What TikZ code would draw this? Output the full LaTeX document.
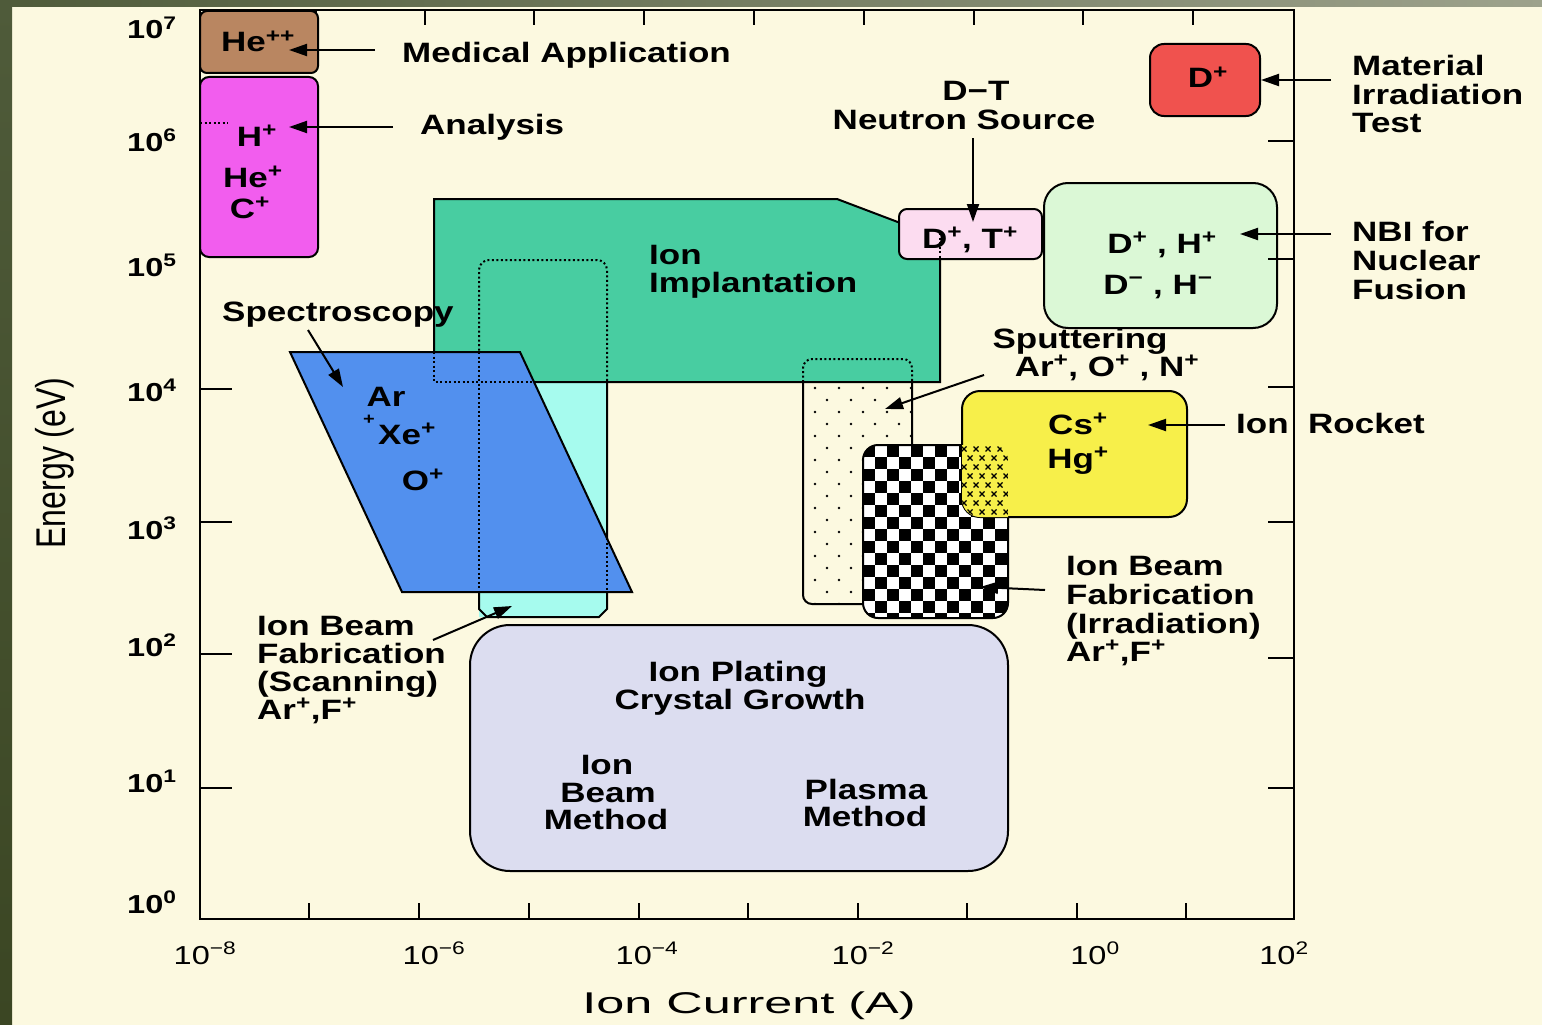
\documentclass[tikz,border=0pt]{standalone}
\usepackage{fontspec}
\setmainfont{Liberation Sans}[FakeStretch=1.25]
\newfontfamily\plainfont{Liberation Sans}
\usetikzlibrary{arrows.meta}
\definecolor{cream}{HTML}{FCF9E0}
\definecolor{stripA}{HTML}{4F5B3A}
\definecolor{stripB}{HTML}{3B4623}
\definecolor{stripR}{HTML}{9DA28C}
\definecolor{brownbox}{HTML}{B98661}
\definecolor{magbox}{HTML}{F25DEE}
\definecolor{tealbox}{HTML}{48CDA1}
\definecolor{cyanbox}{HTML}{A6FBEE}
\definecolor{bluebox}{HTML}{5290EE}
\definecolor{redbox}{HTML}{F0524E}
\definecolor{pinkbox}{HTML}{FCDCF0}
\definecolor{greenbox}{HTML}{DBF8D6}
\definecolor{yelbox}{HTML}{F7EF4A}
\definecolor{lavbox}{HTML}{DCDDF0}
\newcommand\sps[1]{\textsuperscript{#1}}
\tikzset{
 lbl/.style={font=\bfseries\fontsize{28}{30}\selectfont, inner sep=0pt, anchor=base},
 lblw/.style={lbl, anchor=base west},
 ytl/.style={font=\bfseries\fontsize{26}{28}\selectfont, inner sep=0pt, anchor=base west},
 xtl/.style={font=\fontsize{26}{28}\selectfont, inner sep=0pt, anchor=base},
 box/.style={draw=black, line width=2pt},
 hid/.style={draw=black, line width=2pt, dash pattern=on 2pt off 2.5pt},
 arr/.style={line width=2pt, -{Triangle[length=18pt,width=12pt]}},
 axtick/.style={line width=2pt},
}
\begin{document}
\begin{tikzpicture}[x=1pt,y=-1pt]
\useasboundingbox (0,0) rectangle (1542,1025);
% background
\fill[cream] (0,0) rectangle (1542,1025);
\shade[top color=stripA, bottom color=stripB] (0,0) rectangle (12,1025);
\shade[left color=stripA, right color=stripR] (0,0) rectangle (1542,7);
% frame and ticks
\draw[line width=2.5pt] (200,10) rectangle (1294,919);
\foreach \x in {316,425,534,644,754,864,974,1083,1193} \draw[axtick] (\x,10) -- (\x,25);
\foreach \x in {309,419,529,639,748,858,967,1077,1186} \draw[axtick] (\x,903) -- (\x,919);
\foreach \y in {389,522,654,788} \draw[axtick] (200,\y) -- (232,\y);
% cyan column (ion beam fabrication scanning)
\fill[cyanbox] (479,617) [rounded corners=10pt] -- (479,260) -- (607,260) [sharp corners] -- (607,609) -- (599,617) -- cycle;
\draw[box] (607,382) -- (607,609) -- (599,617) -- (487,617) -- (479,609) -- (479,592);
% sputtering box
\fill[cream, rounded corners=9pt] (803,359) rectangle (912,604);
\begin{scope}
 \clip[rounded corners=9pt] (803,359) rectangle (912,604);
 \foreach \j in {0,...,18}{
  \pgfmathtruncatemacro{\off}{mod(\j,2)*12}
  \foreach \i in {0,...,4}{ \fill ({815+\off+24*\i},{388+12*\j}) circle (1.4pt); }
 }
\end{scope}
\draw[box] (803,382) [rounded corners=9pt] -- (803,604) -- (912,604) [sharp corners] -- (912,382);
% ion implantation polygon
\filldraw[fill=tealbox, box] (434,199) -- (837,199) -- (940,238) -- (940,382) -- (434,382) -- cycle;
% hidden outlines over teal
\draw[hid] (479,382) [rounded corners=10pt] -- (479,260) -- (607,260) [sharp corners] -- (607,382);
\draw[hid] (803,382) [rounded corners=9pt] -- (803,359) -- (912,359) [sharp corners] -- (912,382);
% spectroscopy parallelogram
\filldraw[fill=bluebox, box] (290,352) -- (520,352) -- (632,592) -- (402,592) -- cycle;
\draw[hid] (479,352) -- (479,592);
\draw[hid] (434,352) -- (434,382) -- (534,382);
\draw[hid] (607,538) -- (607,592);
% D+,T+ pink box
\filldraw[fill=pinkbox, box, rounded corners=8pt] (899,209) rectangle (1042,259);
\draw[hid] (940,233) -- (940,259);
% NBI green box
\filldraw[fill=greenbox, box, rounded corners=24pt] (1044,183) rectangle (1277,328);
% checkerboard box
\begin{scope}
 \clip[rounded corners=15pt] (863,445) rectangle (1008,618);
 \fill[white] (863,445) rectangle (1008,618);
 \foreach \i in {0,...,12}{\foreach \j in {0,...,14}{
   \pgfmathtruncatemacro{\m}{mod(\i+\j,2)}
   \ifnum\m=0 \fill[black] ({863+12*\i},{445+12*\j}) rectangle ++(12,12); \fi
 }}
\end{scope}
\draw[box, rounded corners=15pt] (863,445) rectangle (1008,618);
% ion rocket yellow box
\filldraw[fill=yelbox, box, rounded corners=18pt] (962,391) rectangle (1187,517);
\begin{scope}
 \clip[rounded corners=15pt] (863,445) rectangle (1008,618);
 \clip[rounded corners=18pt] (962,391) rectangle (1187,517);
 \fill[yelbox] (950,430) rectangle (1020,530);
 \foreach \j in {0,...,8}{
  \pgfmathtruncatemacro{\off}{mod(\j,2)*6}
  \foreach \i in {0,...,4}{
   \draw[line width=1.3pt] ({964+\off+12*\i},{449+9*\j}) +(-2.5,-2.5) -- +(2.5,2.5) +(-2.5,2.5) -- +(2.5,-2.5);
  }
 }
\end{scope}
% ion plating lavender box
\filldraw[fill=lavbox, box, rounded corners=40pt] (470,625) rectangle (1008,871);
% left column boxes
\filldraw[fill=brownbox, box, rounded corners=7pt] (200,11) rectangle (318,73);
\filldraw[fill=magbox, box, rounded corners=9pt] (200,77) rectangle (318,257);
\draw[hid] (200,123) -- (228,123);
% material irradiation red box
\filldraw[fill=redbox, box, rounded corners=14pt] (1150,44) rectangle (1260,116);
% right ticks
\foreach \y in {141,259,387,522,658,788} \draw[axtick] (1268,\y) -- (1294,\y);
% axis tick labels
\node[ytl] (y7) at (127,39) {10\sps{7}};
\node[ytl] (y6) at (127,151) {10\sps{6}};
\node[ytl] (y5) at (127,276) {10\sps{5}};
\node[ytl] (y4) at (127,401) {10\sps{4}};
\node[ytl] (y3) at (127,539) {10\sps{3}};
\node[ytl] (y2) at (127,656) {10\sps{2}};
\node[ytl] (y1) at (127,792) {10\sps{1}};
\node[ytl] (y0) at (127,913) {10\sps{0}};
\node[xtl] (xm8) at (205,964) {10\sps{−8}};
\node[xtl] (xm6) at (434,964) {10\sps{−6}};
\node[xtl] (xm4) at (647,964) {10\sps{−4}};
\node[xtl] (xm2) at (863,964) {10\sps{−2}};
\node[xtl] (x0) at (1095,964) {10\sps{0}};
\node[xtl] (x2) at (1284,964) {10\sps{2}};
\node[inner sep=0pt, rotate=90, font=\plainfont\fontsize{32}{34}\selectfont] (ytitle) at (55,463) {\scalebox{1}[1.3]{Energy (eV)}};
\node[inner sep=0pt, anchor=base, font=\plainfont\fontsize{30}{32}\selectfont] (xtitle) at (749,1013) {\scalebox{1.68}[1]{Ion Current (A)}};
% box texts
\node[lbl] (hepp) at (258,52) {He\sps{++}};
\node[lbl] (hp) at (257,146) {H\sps{+}};
\node[lbl] (hep) at (253,187) {He\sps{+}};
\node[lbl] (cp) at (250,218) {C\sps{+}};
\node[lbl] (dred) at (1208,88) {D\sps{+}};
\node[lbl] (dt) at (970,248) {D\sps{+}, T\sps{+}};
\node[lbl] (nbi1) at (1162,253) {D\sps{+} , H\sps{+}};
\node[lbl] (nbi2) at (1158,294) {D\sps{−} , H\sps{−}};
\node[lblw] (impl1) at (649,264) {Ion};
\node[lblw] (impl2) at (649,292) {Implantation};
\node[lbl] (ar) at (386,406) {Ar};
\node[inner sep=0pt, anchor=base, font=\bfseries\fontsize{16}{16}\selectfont] (arplus) at (369,424) {+};
\node[lbl] (xe) at (407,444) {Xe\sps{+}};
\node[lbl] (op) at (423,490) {O\sps{+}};
\node[lbl] (cs) at (1078,434) {Cs\sps{+}};
\node[lbl] (hg) at (1078,468) {Hg\sps{+}};
\node[lbl] (plat1) at (738,681) {Ion Plating};
\node[lbl] (plat2) at (740,709) {Crystal Growth};
\node[lbl] (ibm1) at (607,774) {Ion};
\node[lbl] (ibm2) at (608,802) {Beam};
\node[lbl] (ibm3) at (606,829) {Method};
\node[lbl] (pm1) at (866,799) {Plasma};
\node[lbl] (pm2) at (865,826) {Method};
% outside labels
\node[lblw] (med) at (402,63) {Medical Application};
\node[lblw] (ana) at (420,134) {Analysis};
\node[lblw] (mat1) at (1352,76) {Material};
\node[lblw] (mat2) at (1352,104) {Irradiation};
\node[lblw] (mat3) at (1352,132) {Test};
\node[lbl] (dtn1) at (976,100) {D−T};
\node[lbl] (dtn2) at (964,129) {Neutron Source};
\node[lblw] (nbil1) at (1352,241) {NBI for};
\node[lblw] (nbil2) at (1352,270) {Nuclear};
\node[lblw] (nbil3) at (1352,299) {Fusion};
\node[lblw] (spec) at (222,321) {Spectroscopy};
\node[lbl] (sput1) at (1080,348) {Sputtering};
\node[lbl] (sput2) at (1107,376) {Ar\sps{+}, O\sps{+} , N\sps{+}};
\node[lblw] (rocket) at (1236,433) {Ion\ \ Rocket};
\node[lblw] (ibs1) at (257,635) {Ion Beam};
\node[lblw] (ibs2) at (257,663) {Fabrication};
\node[lblw] (ibs3) at (257,691) {(Scanning)};
\node[lblw] (ibs4) at (257,719) {Ar\sps{+},F\sps{+}};
\node[lblw] (ibi1) at (1066,575) {Ion Beam};
\node[lblw] (ibi2) at (1066,604) {Fabrication};
\node[lblw] (ibi3) at (1066,633) {(Irradiation)};
\node[lblw] (ibi4) at (1066,661) {Ar\sps{+},F\sps{+}};
% arrow coordinates
\coordinate (medS) at (375,50);   \coordinate (medT) at (289,50);
\coordinate (anaS) at (393,127);  \coordinate (anaT) at (289,127);
\coordinate (matS) at (1331,80);  \coordinate (matT) at (1261,80);
\coordinate (dtS) at (973,138);   \coordinate (dtT) at (973,222);
\coordinate (nbiS) at (1331,234); \coordinate (nbiT) at (1240,234);
\coordinate (specS) at (308,330); \coordinate (specT) at (343,387);
\coordinate (ibsS) at (433,640);  \coordinate (ibsT) at (512,606);
\coordinate (sputS) at (984,375); \coordinate (sputT) at (885,409);
\coordinate (rockS) at (1225,425);\coordinate (rockT) at (1148,425);
\coordinate (ibiS) at (1045,590); \coordinate (ibiT) at (980,587);
\draw[arr] (medS) -- (medT);
\draw[arr] (anaS) -- (anaT);
\draw[arr] (matS) -- (matT);
\draw[arr] (dtS) -- (dtT);
\draw[arr] (nbiS) -- (nbiT);
\draw[arr] (specS) -- (specT);
\draw[arr] (ibsS) -- (ibsT);
\draw[arr] (sputS) -- (sputT);
\draw[arr] (rockS) -- (rockT);
\draw[arr] (ibiS) -- (ibiT);
\end{tikzpicture}
\end{document}
